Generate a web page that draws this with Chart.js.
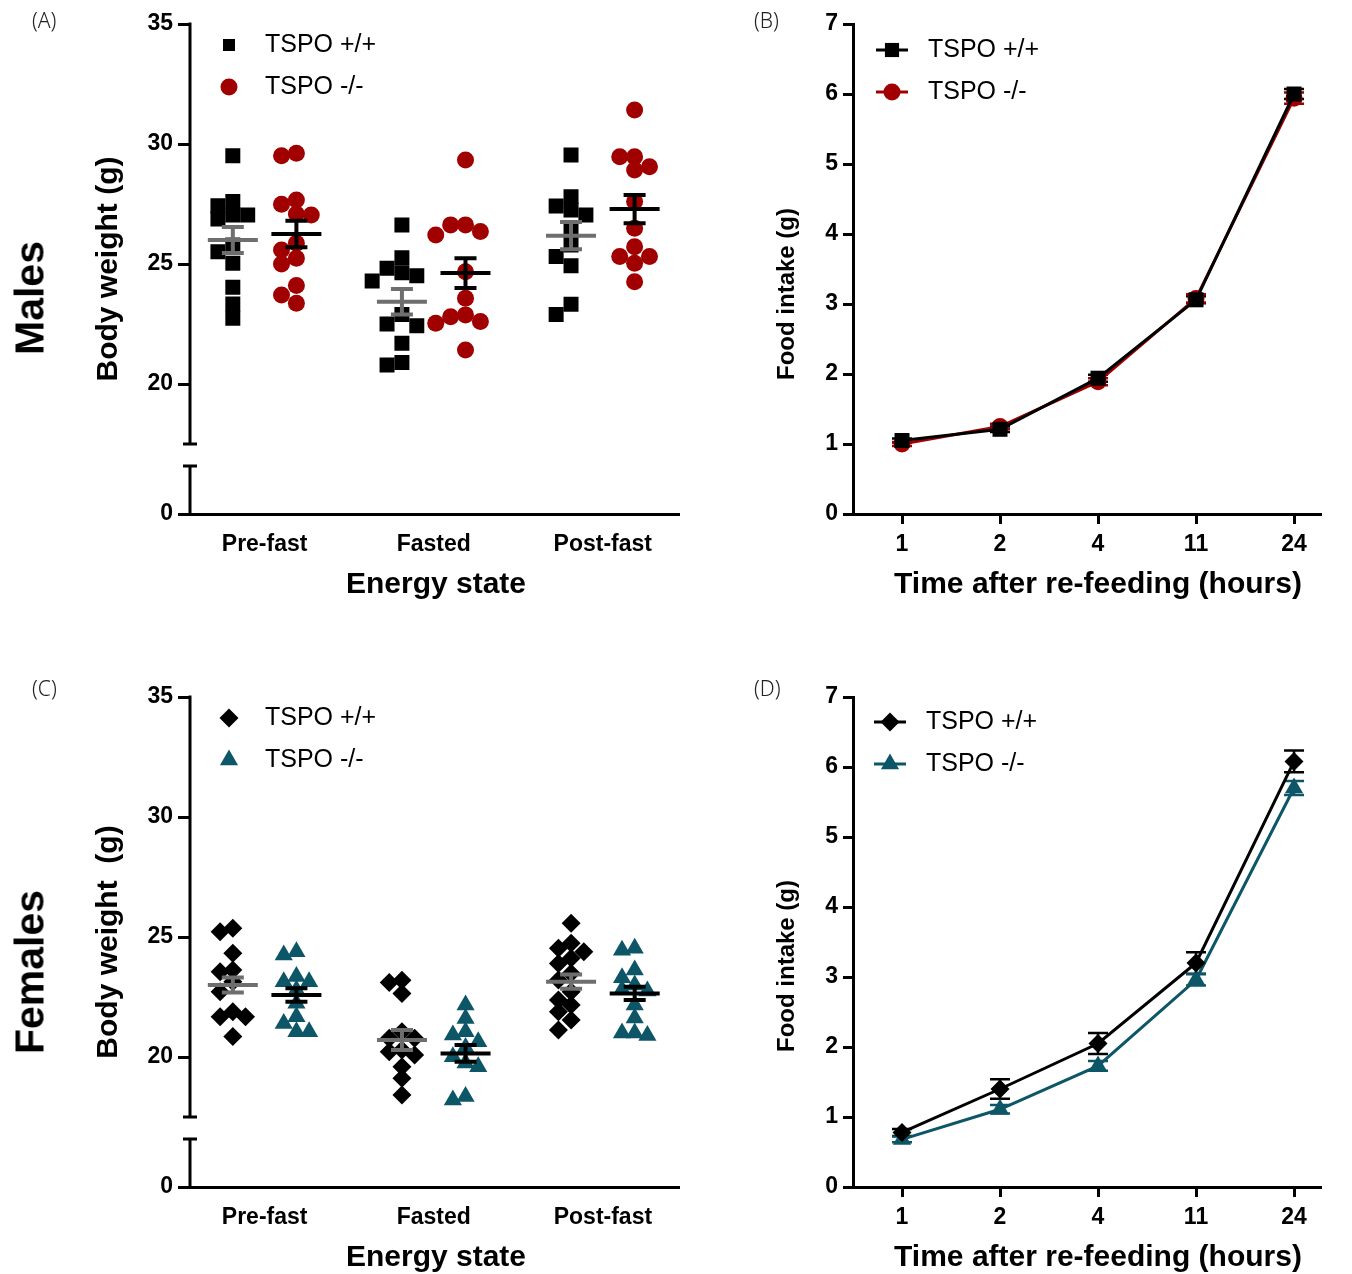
<!DOCTYPE html>
<html>
<head>
<meta charset="utf-8">
<title>TSPO body weight and food intake</title>
<script src="https://cdn.jsdelivr.net/npm/chart.js@4.4.1/dist/chart.umd.min.js"></script>
<style>
  html, body { margin: 0; background: #fff; }
  #page { position: relative; width: 1352px; height: 1274px; overflow: hidden; }
  canvas { position: absolute; }
  .tag { position: absolute; font: 300 21px "Noto Sans", sans-serif; color: #222; }
  .sex { position: absolute; font: bold 41px "Liberation Sans", Arial, sans-serif; color: #000;
         transform: translate(-50%, -50%) rotate(-90deg); white-space: nowrap; }
</style>
</head>
<body>
<div id="page">
  <canvas id="maleWeight" width="690" height="601" style="left:0;top:0"></canvas>
  <canvas id="maleIntake" width="662" height="601" style="left:690px;top:0"></canvas>
  <canvas id="femaleWeight" width="690" height="601" style="left:0;top:673px"></canvas>
  <canvas id="femaleIntake" width="662" height="601" style="left:690px;top:673px"></canvas>
  <div class="tag" style="left:32px;top:6px">(A)</div>
  <div class="tag" style="left:754px;top:6px">(B)</div>
  <div class="tag" style="left:32px;top:674px">(C)</div>
  <div class="tag" style="left:754px;top:674px">(D)</div>
  <div class="sex" style="left:30px;top:298px">Males</div>
  <div class="sex" style="left:30px;top:972px">Females</div>
</div>
<script>
// Body weight (g) of each mouse, per energy state: [pre-fast, fasted, post-fast]
const states = ['Pre-fast', 'Fasted', 'Post-fast'];
const maleWT = [
  [29.51, 27.60, 27.43, 27.04, 27.04, 26.88, 25.79, 25.51, 25.03, 24.03, 23.33, 22.74],
  [26.63, 25.26, 24.82, 24.64, 24.51, 24.29, 22.90, 22.50, 22.43, 21.70, 20.90, 20.79],
  [29.54, 27.80, 27.42, 27.25, 27.04, 26.40, 25.79, 25.31, 24.93, 23.32, 22.90]
];
const maleKO = [
  [29.61, 29.51, 27.67, 27.49, 27.08, 27.04, 25.86, 25.58, 25.24, 25.00, 24.10, 23.71, 23.36],
  [29.33, 26.63, 26.63, 26.35, 26.21, 24.68, 23.57, 22.88, 22.80, 22.60, 22.53, 21.42],
  [31.42, 29.47, 29.47, 29.05, 28.92, 27.60, 26.49, 25.72, 25.31, 25.31, 25.03, 24.26]
];
const femaleWT = [
  [25.36, 25.22, 24.32, 23.63, 23.55, 23.14, 22.72, 21.89, 21.68, 21.68, 20.85],
  [23.20, 23.10, 22.65, 21.05, 20.78, 20.78, 20.29, 20.22, 20.08, 19.59, 19.11, 18.42],
  [25.57, 24.74, 24.53, 24.39, 24.11, 23.90, 23.49, 23.21, 22.72, 22.38, 22.17, 21.89, 21.54, 21.13]
];
const femaleKO = [
  [24.39, 24.25, 23.35, 23.14, 23.14, 22.79, 22.24, 21.68, 21.40, 21.05, 21.05],
  [22.17, 21.60, 21.05, 20.92, 20.64, 20.40, 20.01, 19.75, 19.59, 18.35, 18.21],
  [24.53, 24.45, 23.63, 23.30, 23.00, 22.80, 22.75, 22.17, 21.63, 21.00, 21.00, 20.90]
];

// group mean and SEM for each energy state
const maleMeanWT = [26.00, 23.43, 26.18];
const maleSemWT = [0.54, 0.53, 0.57];
const maleMeanKO = [26.25, 24.62, 27.29];
const maleSemKO = [0.55, 0.62, 0.59];
const femaleMeanWT = [23.00, 20.71, 23.14];
const femaleSemWT = [0.31, 0.42, 0.30];
const femaleMeanKO = [22.58, 20.15, 22.65];
const femaleSemKO = [0.28, 0.35, 0.28];

// Cumulative food intake (g) after re-feeding
const hours = ['1', '2', '4', '11', '24'];
const maleIntakeWT = [1.05, 1.21, 1.94, 3.06, 6.00];
const maleIntakeSemWT = [0.03, 0.04, 0.05, 0.05, 0.07];
const maleIntakeKO = [1.00, 1.25, 1.89, 3.08, 5.94];
const maleIntakeSemKO = [0.03, 0.04, 0.05, 0.06, 0.08];
const femaleIntakeWT = [0.78, 1.40, 2.05, 3.20, 6.08];
const femaleIntakeSemWT = [0.05, 0.14, 0.15, 0.155, 0.155];
const femaleIntakeKO = [0.68, 1.11, 1.73, 2.96, 5.70];
const femaleIntakeSemKO = [0.04, 0.06, 0.07, 0.08, 0.10];

const FONT = '"Liberation Sans", Arial, sans-serif';
const tickFont = { family: FONT, size: 23, weight: 'bold' };
const red = '#a10000', teal = '#0c5667', grey = '#6e6e6e';

// spread points of one group sideways so equal weights do not hide each other
function swarm(values, center, step, gap) {
  const placed = [];
  return values.slice().sort((a, b) => b - a).map(v => {
    for (let k = 0; k < 9; k++) {
      const col = k === 0 ? 0 : (k % 2 ? -Math.ceil(k / 2) : Math.ceil(k / 2));
      if (!placed.some(p => p.col === col && Math.abs(p.v - v) < gap)) {
        placed.push({ col, v });
        return { x: center + col * step, y: v };
      }
    }
    return { x: center, y: v };
  });
}

// mean line with SEM whiskers over each scatter group
const meanBars = {
  id: 'meanBars',
  afterDatasetsDraw(chart, args, opts) {
    const { ctx, scales: { x, y } } = chart;
    ctx.save();
    ctx.lineWidth = 4;
    opts.groups.forEach(g => {
      ctx.strokeStyle = g.color;
      g.means.forEach((m, i) => {
        const cx = x.getPixelForValue(i + g.offset);
        const ym = y.getPixelForValue(m);
        const y0 = y.getPixelForValue(m - g.sem[i]);
        const y1 = y.getPixelForValue(m + g.sem[i]);
        ctx.beginPath();
        ctx.moveTo(cx - 25, ym); ctx.lineTo(cx + 25, ym);
        ctx.moveTo(cx, y0); ctx.lineTo(cx, y1);
        ctx.moveTo(cx - 11, y0); ctx.lineTo(cx + 11, y0);
        ctx.moveTo(cx - 11, y1); ctx.lineTo(cx + 11, y1);
        ctx.stroke();
      });
    });
    ctx.restore();
  }
};

// y axis drawn in two pieces with a gap between 0 and 17.5
const brokenAxis = {
  id: 'brokenAxis',
  afterDraw(chart, args, opts) {
    const { ctx, chartArea, scales: { y, yLow } } = chart;
    const ax = chartArea.left;
    const top = y.getPixelForValue(y.max), cut = y.getPixelForValue(opts.upperEnd);
    const zero = yLow.getPixelForValue(0), stub = yLow.getPixelForValue(opts.lowerEnd);
    ctx.save();
    ctx.strokeStyle = '#000';
    ctx.lineWidth = 3;
    ctx.beginPath();
    ctx.moveTo(ax, top - 1.5); ctx.lineTo(ax, cut);
    ctx.moveTo(ax - 7, cut); ctx.lineTo(ax + 7, cut);
    ctx.moveTo(ax, zero); ctx.lineTo(ax, stub);
    ctx.moveTo(ax - 7, stub); ctx.lineTo(ax + 7, stub);
    ctx.stroke();
    ctx.restore();
  }
};

// SEM whiskers for the intake curves
const semBars = {
  id: 'semBars',
  beforeDatasetsDraw(chart) {
    const { ctx, scales: { y } } = chart;
    ctx.save();
    ctx.lineWidth = 2.5;
    chart.data.datasets.forEach((ds, i) => {
      ctx.strokeStyle = ds.borderColor;
      chart.getDatasetMeta(i).data.forEach((pt, j) => {
        const v = ds.data[j].y, s = ds.sem[j];
        const y0 = y.getPixelForValue(v - s), y1 = y.getPixelForValue(v + s);
        ctx.beginPath();
        ctx.moveTo(pt.x, y0); ctx.lineTo(pt.x, y1);
        ctx.moveTo(pt.x - 10, y0); ctx.lineTo(pt.x + 10, y0);
        ctx.moveTo(pt.x - 10, y1); ctx.lineTo(pt.x + 10, y1);
        ctx.stroke();
      });
    });
    ctx.restore();
  }
};

// legend drawn inside the plot, top left
const keyBox = {
  id: 'keyBox',
  afterDraw(chart, args, opts) {
    const ctx = chart.ctx;
    ctx.save();
    ctx.font = '25px ' + FONT;
    ctx.textBaseline = 'middle';
    chart.data.datasets.forEach((ds, i) => {
      const y = opts.y + i * opts.dy;
      const col = ds.pointBackgroundColor;
      if (opts.line) {
        ctx.strokeStyle = ds.borderColor;
        ctx.lineWidth = 3;
        ctx.beginPath();
        ctx.moveTo(opts.markerX - 16, y); ctx.lineTo(opts.markerX + 16, y);
        ctx.stroke();
      }
      ctx.fillStyle = col;
      ctx.strokeStyle = col;
      Chart.helpers.drawPoint(ctx, { pointStyle: ds.pointStyle, rotation: 0, radius: opts.radii[i], borderWidth: 0 }, opts.markerX, y);
      ctx.fillStyle = '#000';
      ctx.fillText(ds.label, opts.textX, y);
    });
    ctx.restore();
  }
};

// axis titles placed at fixed centres
const axisTitles = {
  id: 'axisTitles',
  afterDraw(chart, args, opts) {
    const ctx = chart.ctx;
    ctx.save();
    ctx.fillStyle = '#000';
    ctx.textAlign = 'center';
    ctx.textBaseline = 'middle';
    ctx.font = 'bold ' + opts.x.size + 'px ' + FONT;
    ctx.fillText(opts.x.text, opts.x.cx, opts.x.cy);
    ctx.font = 'bold ' + opts.y.size + 'px ' + FONT;
    ctx.translate(opts.y.cx, opts.y.cy);
    ctx.rotate(-Math.PI / 2);
    ctx.fillText(opts.y.text, 0, 0);
    ctx.restore();
  }
};

function weightChart(id, wt, ko, stats, looks, yTitle) {
  const step = looks.step, gap = looks.gap;
  return new Chart(document.getElementById(id), {
    type: 'scatter',
    data: {
      datasets: [
        {
          label: 'TSPO +/+',
          data: wt.flatMap((vals, i) => swarm(vals, i - 0.188, step, gap)),
          pointStyle: looks.wtStyle, pointRadius: looks.wtRadius,
          pointBackgroundColor: '#000', pointBorderColor: '#000', pointBorderWidth: 0
        },
        {
          label: 'TSPO -/-',
          data: ko.flatMap((vals, i) => swarm(vals, i + 0.188, step, gap)),
          pointStyle: looks.koStyle, pointRadius: looks.koRadius,
          pointBackgroundColor: looks.koColor, pointBorderColor: looks.koColor, pointBorderWidth: 0
        }
      ]
    },
    options: {
      responsive: false,
      animation: false,
      events: [],
      layout: { padding: { top: 24, right: 8, left: 0, bottom: 0 } },
      scales: {
        x: {
          type: 'linear', min: -0.4412, max: 2.4529,
          afterBuildTicks: s => { s.ticks = states.map((_, i) => ({ value: i })); },
          afterFit: s => { s.height = 87; },
          ticks: { callback: v => states[v], color: '#000', font: tickFont, padding: 17 },
          grid: { display: false, drawTicks: false },
          border: { display: true, color: '#000', width: 3 }
        },
        y: {
          type: 'linear', position: 'left', stack: 'bw', stackWeight: 432, weight: 1,
          min: 17, max: 35,
          afterBuildTicks: s => { s.ticks = [20, 25, 30, 35].map(value => ({ value })); },
          afterFit: s => { s.width = 190; },
          ticks: { color: '#000', font: tickFont, padding: 5 },
          grid: { drawOnChartArea: false, tickLength: 12, lineWidth: 3, color: '#000' },
          border: { display: false }
        },
        yLow: {
          type: 'linear', position: 'left', stack: 'bw', stackWeight: 58, weight: 0,
          min: 0, max: 58 / 24,
          afterBuildTicks: s => { s.ticks = [{ value: 0 }]; },
          afterFit: s => { s.width = 190; },
          ticks: { color: '#000', font: tickFont, padding: 5 },
          grid: { drawOnChartArea: false, tickLength: 12, lineWidth: 3, color: '#000' },
          border: { display: false }
        }
      },
      plugins: {
        legend: { display: false },
        tooltip: { enabled: false },
        meanBars: {
          groups: [
            { means: stats[0], sem: stats[1], offset: -0.188, color: grey },
            { means: stats[2], sem: stats[3], offset: 0.188, color: '#000' }
          ]
        },
        brokenAxis: { upperEnd: 17.5, lowerEnd: 2 },
        keyBox: { y: 45, dy: 42, markerX: 229, textX: 265, radii: looks.keyRadii },
        axisTitles: {
          x: { text: 'Energy state', cx: 436, cy: 585, size: 30 },
          y: { text: yTitle, cx: 109, cy: 269, size: 30 }
        }
      }
    },
    plugins: [meanBars, brokenAxis, keyBox, axisTitles]
  });
}

function intakeChart(id, wt, ko, looks, titleY) {
  const series = vals => vals.map((v, i) => ({ x: i, y: v }));
  return new Chart(document.getElementById(id), {
    type: 'line',
    data: {
      datasets: [
        {
          label: 'TSPO +/+', data: series(wt[0]), sem: wt[1],
          borderColor: '#000', borderWidth: 3, tension: 0,
          pointStyle: looks.wtStyle, pointRadius: looks.wtRadius,
          pointBackgroundColor: '#000', pointBorderColor: '#000', pointBorderWidth: 0
        },
        {
          label: 'TSPO -/-', data: series(ko[0]), sem: ko[1],
          borderColor: looks.koColor, borderWidth: 3, tension: 0,
          pointStyle: looks.koStyle, pointRadius: looks.koRadius,
          pointBackgroundColor: looks.koColor, pointBorderColor: looks.koColor, pointBorderWidth: 0
        }
      ]
    },
    options: {
      responsive: false,
      animation: false,
      events: [],
      layout: { padding: { top: 24, right: 32, left: 0, bottom: 0 } },
      scales: {
        x: {
          type: 'linear', min: -0.5, max: 4.265,
          afterBuildTicks: s => { s.ticks = hours.map((_, i) => ({ value: i })); },
          afterFit: s => { s.height = 87; },
          ticks: { callback: v => hours[v], color: '#000', font: tickFont, padding: 7 },
          grid: { drawOnChartArea: false, tickLength: 10, lineWidth: 3, color: '#000' },
          border: { display: true, color: '#000', width: 3 }
        },
        y: {
          type: 'linear', min: 0, max: 7,
          afterFit: s => { s.width = 163; },
          ticks: { stepSize: 1, color: '#000', font: tickFont, padding: 5 },
          grid: { drawOnChartArea: false, tickLength: 10, lineWidth: 3, color: '#000' },
          border: { display: true, color: '#000', width: 3 }
        }
      },
      plugins: {
        legend: { display: false },
        tooltip: { enabled: false },
        keyBox: { y: looks.keyY, dy: 42, markerX: looks.keyX, textX: looks.keyX + 36, radii: looks.keyRadii, line: true },
        axisTitles: {
          x: { text: 'Time after re-feeding (hours)', cx: 408, cy: 585, size: 30 },
          y: { text: 'Food intake (g)', cx: 97, cy: titleY, size: 24 }
        }
      }
    },
    plugins: [semBars, keyBox, axisTitles]
  });
}

weightChart('maleWeight', maleWT, maleKO,
  [maleMeanWT, maleSemWT, maleMeanKO, maleSemKO],
  { wtStyle: 'rect', wtRadius: 10.6, koStyle: 'circle', koRadius: 8.5, koColor: red,
    step: 0.088, gap: 0.54, keyRadii: [8.5, 8.5] },
  'Body weight (g)');

weightChart('femaleWeight', femaleWT, femaleKO,
  [femaleMeanWT, femaleSemWT, femaleMeanKO, femaleSemKO],
  { wtStyle: 'rectRot', wtRadius: 9.5, koStyle: 'triangle', koRadius: 10.5, koColor: teal,
    step: 0.075, gap: 0.45, keyRadii: [9.5, 10.5] },
  'Body weight  (g)');

intakeChart('maleIntake', [maleIntakeWT, maleIntakeSemWT], [maleIntakeKO, maleIntakeSemKO],
  { wtStyle: 'rect', wtRadius: 10.6, koStyle: 'circle', koRadius: 8.5, koColor: red,
    keyX: 202, keyY: 50, keyRadii: [10, 8.5] }, 294);

intakeChart('femaleIntake', [femaleIntakeWT, femaleIntakeSemWT], [femaleIntakeKO, femaleIntakeSemKO],
  { wtStyle: 'rectRot', wtRadius: 9.5, koStyle: 'triangle', koRadius: 10.5, koColor: teal,
    keyX: 200, keyY: 49, keyRadii: [9.5, 10.5] }, 293);
</script>
</body>
</html>
